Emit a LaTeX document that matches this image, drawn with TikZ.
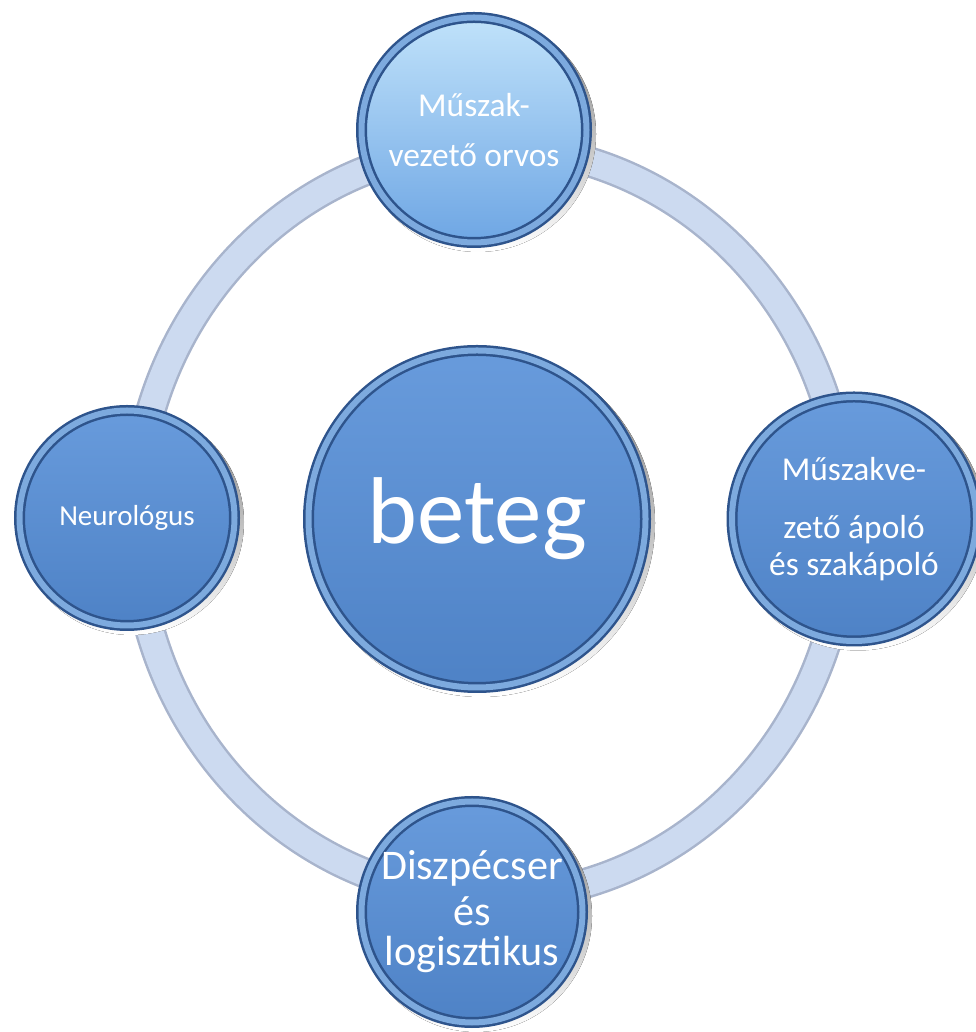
\documentclass[tikz,border=0pt]{standalone}
\usepackage{fontspec}
\setmainfont{Carlito}
\definecolor{rimdark}{RGB}{46,84,140}
\definecolor{rimlight}{RGB}{125,170,222}
\definecolor{disctop}{RGB}{104,155,220}
\definecolor{discbot}{RGB}{78,130,198}
\definecolor{palesky}{RGB}{192,226,250}
\definecolor{midsky}{RGB}{110,166,228}
\definecolor{ringfill}{RGB}{204,218,240}
\definecolor{ringedge}{RGB}{168,180,204}
\definecolor{shade}{RGB}{30,40,60}
\tikzset{
  disc/.style={circle, inner sep=0pt, align=center, text=white,
    top color=disctop, bottom color=discbot,
    draw=rimdark, double=rimlight, double distance=1.2mm, line width=0.5mm},
  lightdisc/.style={disc, top color=palesky, bottom color=midsky},
}
\begin{document}
\begin{tikzpicture}[x=0.2mm, y=0.2mm]
\useasboundingbox (0,0) rectangle (976,1032);
% ring behind the discs
\draw[ringedge, line width=6.2mm] (490,510) ellipse (355 and 375);
\draw[ringfill, line width=5.2mm] (490,510) ellipse (355 and 375);
% shadows
\fill[shade] (481,509) circle (34.8mm);
\fill[shade] (478,898) circle (23.6mm);
\fill[shade] (858,509) circle (25.5mm);
\fill[shade] (131,510) circle (22.6mm);
\fill[shade] (476,116) circle (23.2mm);
% discs
\node[disc, minimum size=67.4mm, font=\fontsize{54}{60}\selectfont] (beteg) at (477,513) {beteg};
\node[lightdisc, minimum size=45mm, font=\fontsize{19}{28}\selectfont] (orvos) at (474,902) {Műszak-\\vezető orvos};
\node[disc, minimum size=48.8mm, font=\fontsize{19}{21}\selectfont] (apolo) at (854,513) {Műszakve-\\[12pt]zető ápoló\\és szakápoló};
\node[disc, minimum size=43mm, font=\fontsize{16.5}{20}\selectfont] (neuro) at (127,514) {Neurológus};
\node[disc, minimum size=44.2mm, font=\fontsize{24}{23}\selectfont] (diszp) at (472,120) {Diszpécser\\[3pt]és\\logisztikus};
\end{tikzpicture}
\end{document}
